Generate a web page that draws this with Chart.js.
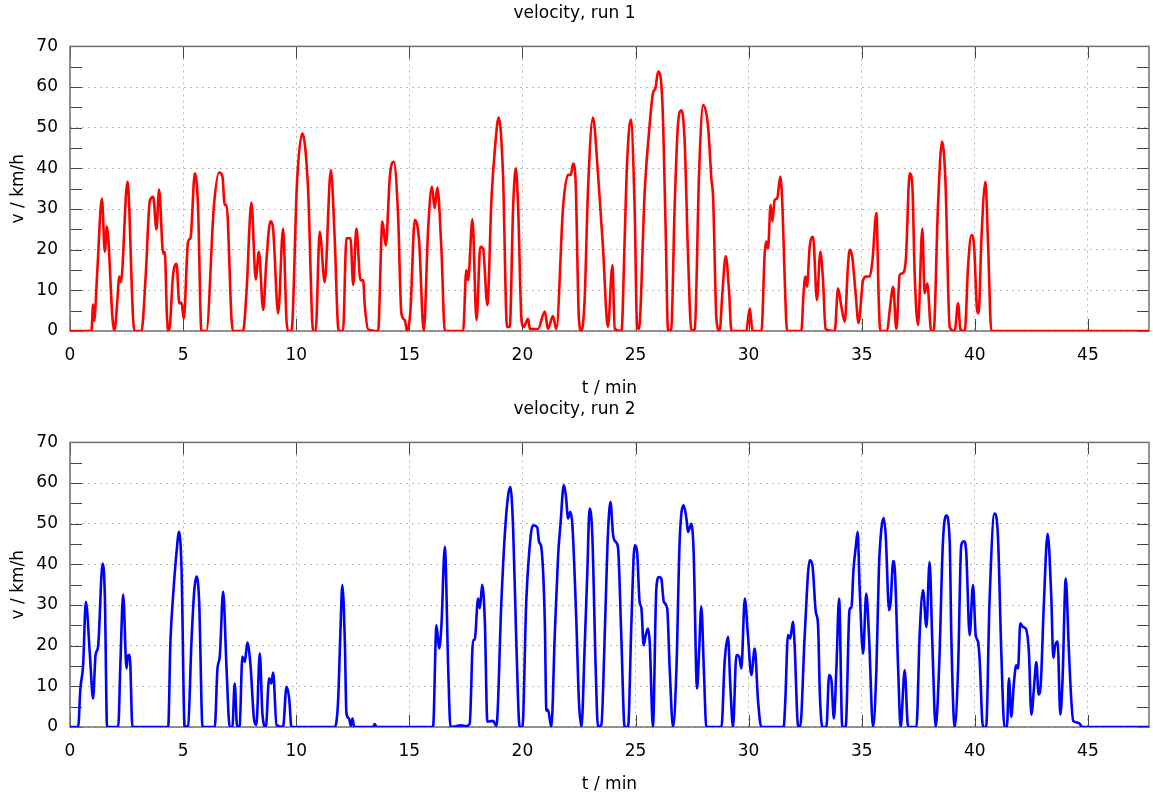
<!DOCTYPE html>
<html>
<head>
<meta charset="utf-8">
<title>velocity runs</title>
<script src="https://cdn.jsdelivr.net/npm/chart.js@4.4.1/dist/chart.umd.min.js"></script>
<style>
  html, body { margin: 0; padding: 0; background: #fff; overflow: hidden; }
  .panel { position: absolute; left: 0; width: 1153px; height: 396px; }
  #run1Panel { top: 0; }
  #run2Panel { top: 396px; }
</style>
</head>
<body>
<div class="panel" id="run1Panel"><canvas id="run1Chart" width="1153" height="396"></canvas></div>
<div class="panel" id="run2Panel"><canvas id="run2Chart" width="1153" height="396"></canvas></div>
<script>
// time axis ticks (minutes) and velocity ticks (km/h)
const xTicks = [0, 5, 10, 15, 20, 25, 30, 35, 40, 45];
const yTicks = [0, 5, 10, 15, 20, 25, 30, 35, 40, 45, 50, 55, 60, 65, 70];
const tMax = 47.7;

// run 1: time in minutes, velocity in km/h
const run1Time = [
  0, 0.95, 1.02, 1.07, 1.2, 1.41, 1.54, 1.63, 1.88, 1.96, 2.1, 2.17, 2.25, 2.54, 2.79, 2.85,
  3.16, 3.35, 3.53, 3.68, 3.82, 3.94, 4.12, 4.19, 4.29, 4.38, 4.56, 4.71, 4.83, 4.93, 5.03,
  5.22, 5.33, 5.52, 5.66, 5.81, 6.03, 6.36, 6.59, 6.74, 6.84, 6.92, 7.14, 7.2, 7.65, 7.8,
  8.02, 8.21, 8.35, 8.54, 8.68, 8.86, 8.98, 9.2, 9.42, 9.57, 9.64, 9.79, 10.04, 10.27, 10.52,
  10.75, 10.86, 11.04, 11.26, 11.53, 11.7, 11.85, 11.9, 12.07, 12.22, 12.4, 12.52, 12.66,
  12.84, 12.96, 13.03, 13.18, 13.62, 13.81, 13.96, 14.14, 14.31, 14.5, 14.65, 14.8, 14.9,
  15.05, 15.24, 15.43, 15.64, 15.83, 16.0, 16.12, 16.24, 16.42, 16.57, 17.38, 17.52, 17.6,
  17.79, 17.97, 18.14, 18.26, 18.45, 18.63, 18.78, 18.95, 19.14, 19.32, 19.44, 19.59, 19.71,
  19.81, 19.96, 20.06, 20.25, 20.33, 20.69, 20.99, 21.13, 21.35, 21.5, 21.8, 22.02, 22.14,
  22.24, 22.35, 22.5, 22.61, 22.75, 22.9, 23.12, 23.34, 23.56, 23.78, 23.98, 24.08, 24.38,
  24.52, 24.62, 24.79, 24.96, 25.07, 25.15, 25.41, 25.63, 25.77, 25.88, 26.0, 26.19, 26.33,
  26.44, 26.58, 26.73, 26.88, 27.03, 27.17, 27.32, 27.47, 27.62, 27.81, 27.99, 28.21, 28.36,
  28.43, 28.58, 28.72, 28.84, 28.99, 29.14, 29.24, 29.9, 30.05, 30.17, 30.57, 30.71, 30.78,
  30.86, 30.97, 31.05, 31.15, 31.26, 31.4, 31.5, 31.6, 31.7, 32.33, 32.43, 32.51, 32.58,
  32.7, 32.85, 33.02, 33.17, 33.29, 33.4, 33.81, 33.95, 34.1, 34.25, 34.39, 34.47, 34.58,
  34.73, 34.86, 35.06, 35.2, 35.35, 35.47, 35.65, 35.75, 35.82, 36.12, 36.24, 36.39, 36.53,
  36.68, 36.8, 36.95, 37.12, 37.24, 37.34, 37.49, 37.68, 37.78, 37.9, 38.07, 38.18, 38.37,
  38.55, 38.7, 38.89, 39.11, 39.26, 39.36, 39.56, 39.7, 39.85, 39.97, 40.1, 40.17, 40.29,
  40.47, 40.58, 40.73, 47.7
];
const run1Speed = [
  0, 0, 6.5, 2.5, 14, 32.6, 19.5, 25.7, 3, 0, 8, 13.4, 12, 36.7, 3, 0,
  0, 14, 32, 33, 25, 34.8, 19, 19.5, 3, 0, 14, 16.5, 6.8, 7, 3,
  22, 23, 38.8, 30.6, 0, 0, 30.6, 39, 38, 31, 31, 3, 0, 0, 9.3,
  31.6, 12.7, 19.5, 5.2, 17, 27, 25, 4.3, 25.2, 2.7, 0, 0, 37, 48.6, 35.5,
  0, 0, 24.4, 12, 39.6, 23, 1, 0, 0, 22.8, 22.8, 11.3, 25.2,
  12.5, 12.5, 6.4, 0.4, 0, 26.9, 21, 38, 41.6, 29, 4.3, 2.7, 0,
  5, 27.3, 22.4, 0, 24.8, 35.5, 30.2, 35.3, 20, 0, 0, 15, 12.5,
  27.5, 2.7, 20.7, 20.3, 6.4, 32.2, 44.5, 52.5, 38.8, 1, 1, 30.6, 40,
  30.6, 2.7, 1, 3, 0.5, 0.5, 4.8, 0.5, 3.7, 0.5, 30.6, 38.4, 38.4,
  41.2, 37, 2.7, 0, 7.6, 34.7, 52.5, 38.8, 20.7, 1, 16.2, 0.5, 0,
  22.4, 40.4, 52, 30.6, 1, 0.5, 34.7, 51, 58.4, 59.7, 63.8, 56, 25.7,
  0, 0.5, 30.6, 51, 54.3, 47, 19, 0, 0.5, 38.8, 55.6, 50.2, 37,
  33, 2.7, 0, 9.3, 18.4, 9.3, 0, 0, 5.6, 0, 0, 19, 22,
  20.3, 31, 27, 32.2, 32.6, 38, 30, 12, 0, 0, 9.3, 13.4, 10.9,
  20.7, 23.2, 7.6, 19.5, 12.5, 0.5, 0, 10.5, 6, 2.3, 15.8, 20, 18.3,
  9.3, 2, 12.5, 13.4, 13.4, 17, 29, 8, 0, 0, 5.2, 10.9, 0.5,
  13.8, 14.2, 17.5, 38.8, 35.5, 14.2, 1.5, 25.2, 9.3, 11.7, 0, 0, 30.6,
  46.6, 37, 1, 0, 6.8, 0.5, 0, 15.8, 23.6, 20.7, 5.2, 4.3, 22.4,
  36.7, 22.4, 0, 0
];

// run 2: time in minutes, velocity in km/h
const run2Time = [
  0, 0.36, 0.46, 0.58, 0.7, 0.88, 1.02, 1.13, 1.24, 1.44, 1.54, 1.64, 2.13, 2.23, 2.35, 2.5,
  2.57, 2.64, 2.76, 4.34, 4.44, 4.56, 4.71, 4.82, 4.93, 5.07, 5.22, 5.37, 5.49, 5.59, 5.71,
  5.86, 6.4, 6.52, 6.62, 6.77, 6.92, 7.06, 7.18, 7.28, 7.39, 7.5, 7.62, 7.73, 7.84, 7.98,
  8.14, 8.24, 8.39, 8.51, 8.66, 8.8, 8.9, 8.98, 9.13, 9.42, 9.57, 9.69, 9.79, 11.7, 11.85,
  11.95, 12.04, 12.15, 12.22, 12.34, 12.41, 12.49, 12.56, 13.4, 13.47, 13.55, 16.05, 16.2,
  16.32, 16.42, 16.57, 16.72, 16.82, 17.3, 17.5, 17.67, 17.82, 17.89, 18.04, 18.12, 18.22,
  18.34, 18.45, 18.7, 18.85, 19.07, 19.22, 19.37, 19.47, 19.59, 19.73, 19.88, 20.0, 20.17,
  20.37, 20.47, 20.65, 20.74, 20.84, 20.99, 21.06, 21.13, 21.28, 21.43, 21.58, 21.69, 21.83,
  21.92, 22.02, 22.12, 22.21, 22.38, 22.5, 22.61, 22.75, 22.87, 22.97, 23.09, 23.24, 23.34,
  23.49, 23.64, 23.76, 23.89, 24.01, 24.13, 24.23, 24.37, 24.52, 24.67, 24.82, 24.96, 25.07,
  25.18, 25.26, 25.36, 25.45, 25.55, 25.63, 25.77, 25.92, 26.04, 26.14, 26.25, 26.4, 26.51,
  26.66, 26.81, 26.95, 27.13, 27.25, 27.32, 27.47, 27.57, 27.72, 27.81, 27.91, 28.02, 28.13,
  28.8, 28.94, 29.09, 29.19, 29.31, 29.46, 29.58, 29.68, 29.83, 29.97, 30.12, 30.27, 30.42,
  30.56, 31.55, 31.62, 31.74, 31.84, 31.96, 32.04, 32.18, 32.28, 32.48, 32.7, 32.82, 32.97,
  33.07, 33.15, 33.26, 33.44, 33.56, 33.66, 33.77, 33.88, 34.0, 34.14, 34.29, 34.47, 34.54,
  34.64, 34.73, 34.82, 34.91, 35.06, 35.2, 35.32, 35.5, 35.65, 35.76, 35.87, 35.97, 36.06,
  36.21, 36.28, 36.39, 36.46, 36.61, 36.72, 36.9, 37.05, 37.42, 37.56, 37.71, 37.86, 38.0,
  38.12, 38.27, 38.42, 38.59, 38.74, 38.89, 38.96, 39.11, 39.26, 39.4, 39.52, 39.62, 39.77,
  39.92, 40.04, 40.14, 40.21, 40.36, 40.5, 40.65, 40.87, 41.02, 41.17, 41.31, 41.42, 41.51,
  41.61, 41.72, 41.83, 41.91, 42.01, 42.13, 42.25, 42.39, 42.5, 42.62, 42.72, 42.82, 42.92,
  43.05, 43.22, 43.38, 43.47, 43.55, 43.66, 43.78, 43.88, 44.02, 44.15, 44.25, 44.35, 44.6,
  44.75, 47.7
];
const run2Speed = [
  0, 0, 9.5, 15.2, 30.8, 17.7, 7, 17.7, 19.7, 40.2, 32.4, 0, 0, 16, 32.6, 14.4,
  17.7, 17.7, 0, 0, 21, 32.4, 43, 48, 39, 0, 0.3, 21, 33.3, 37, 30.8,
  0, 0, 14.4, 17.3, 33.3, 14.4, 0, 0, 10.7, 0, 0.3, 17.3, 16, 20.8, 15.2,
  1.7, 0.5, 18.1, 3, 0, 12, 10.7, 13.4, 0.5, 0, 9.9, 7, 0, 0, 6.2,
  22.6, 34.9, 21, 3.4, 2.1, 0.3, 2.1, 0, 0, 0.7, 0, 0, 25,
  19.3, 25, 44.3, 14.4, 0, 0.4, 0.2, 0.8, 21.4, 21.4, 31.6, 29.2, 35,
  25.9, 1.3, 1.5, 0.3, 30.8, 47.2, 57, 59, 48.8, 21, 0, 0, 30.8,
  47.2, 49.6, 49.2, 45.5, 44, 26, 4, 4.2, 0, 22.6, 42.3, 50.4, 59.5,
  57, 51.3, 52.9, 49.6, 26.7, 6.2, 0, 19.3, 38.2, 53.7, 47.2, 14.4, 0,
  0.5, 22.6, 44.7, 55.4, 47.2, 45.5, 43.9, 22.6, 0, 0, 25.9, 44.7, 43,
  30.8, 29.2, 20.1, 22.6, 24.2, 20.6, 0, 34, 36.9, 36.5, 30.8, 29.2, 14.4,
  0, 14.4, 45.5, 54.5, 51.3, 48, 50, 43, 9.5, 18.5, 29.6, 14.4, 0,
  0, 16, 22.2, 10.3, 0, 17.7, 17.3, 14.4, 31.6, 22.6, 12.8, 19.3, 6.2,
  0, 0, 6.2, 22.6, 21.8, 25.9, 19.3, 0.5, 0, 22.6, 41, 39.8, 28.3,
  25, 8, 0, 0, 12.8, 11.5, 2.1, 14.4, 31.6, 0, 0, 29.2, 29.2,
  39, 43.9, 48, 34, 18.1, 32.8, 22.6, 0, 14.4, 39, 48.8, 51.4, 47.2,
  28.7, 30.8, 40.8, 39, 14.4, 0, 14, 0, 0, 22.6, 33.7, 24.6, 40.6,
  21, 0, 14.4, 45.5, 52, 45.5, 22.6, 0, 14.4, 44.7, 45.7, 43, 22.6,
  34.9, 22.6, 21, 16.9, 0, 0, 30.8, 52.5, 47.2, 18.5, 0, 0, 12,
  2.5, 10.3, 15.2, 14.4, 25.5, 24.6, 24.2, 18.5, 3, 10, 16, 8, 11,
  30, 47.5, 32, 17, 20, 21, 3, 12, 36.5, 20, 8, 1.5, 1,
  0, 0
];

const fontFamily = "'DejaVu Sans', Verdana, sans-serif";

// draws the box round the plot and the inward tick marks (gnuplot look)
const frameTicks = {
  id: "frameTicks",
  beforeDatasetsDraw(chart) {
    const { ctx, chartArea: a, scales } = chart;
    const len = 12;
    ctx.save();
    ctx.strokeStyle = "#444";
    ctx.lineWidth = 1;
    ctx.beginPath();
    xTicks.forEach((v) => {
      const px = Math.round(scales.x.getPixelForValue(v)) + 0.5;
      ctx.moveTo(px, a.bottom);
      ctx.lineTo(px, a.bottom - len);
      ctx.moveTo(px, a.top);
      ctx.lineTo(px, a.top + len);
    });
    yTicks.forEach((v) => {
      const py = Math.round(scales.y.getPixelForValue(v)) + 0.5;
      ctx.moveTo(a.left, py);
      ctx.lineTo(a.left + len, py);
      ctx.moveTo(a.right, py);
      ctx.lineTo(a.right - len, py);
    });
    ctx.stroke();
    ctx.strokeStyle = "#707070";
    ctx.lineWidth = 1.5;
    ctx.strokeRect(a.left, a.top, a.right - a.left, a.bottom - a.top);
    ctx.restore();
  },
};

function makePoints(times, speeds) {
  return times.map((t, i) => ({ x: t, y: speeds[i] }));
}

// both panels share the same layout
function velocityOptions(titleText) {
  return {
    responsive: false,
    animation: false,
    layout: { padding: { left: 0, right: 4, top: 0, bottom: 0 } },
    plugins: {
      legend: { display: false },
      tooltip: { enabled: false },
      title: {
        display: true,
        text: titleText,
        color: "#000",
        font: { family: fontFamily, size: 17, weight: "normal", lineHeight: 1.2 },
        padding: { top: 3, bottom: 23 },
      },
    },
    scales: {
      x: {
        type: "linear",
        min: 0,
        max: tMax,
        afterBuildTicks: (scale) => {
          scale.ticks = xTicks.map((v) => ({ value: v }));
        },
        afterFit: (scale) => {
          scale.height = 65;
        },
        grid: { color: "#b8b8b8", lineWidth: 1, drawTicks: false },
        border: { display: false, dash: [2, 4] },
        ticks: {
          color: "#000",
          padding: 14,
          maxRotation: 0,
          font: { family: fontFamily, size: 17 },
        },
        title: {
          display: true,
          text: "t / min",
          color: "#000",
          font: { family: fontFamily, size: 17, lineHeight: 0.85 },
          padding: { top: 0, bottom: 0 },
        },
      },
      y: {
        min: 0,
        max: 70,
        afterBuildTicks: (scale) => {
          scale.ticks = yTicks.map((v) => ({ value: v }));
        },
        afterFit: (scale) => {
          scale.width = 70;
        },
        grid: { color: "#b8b8b8", lineWidth: 1, drawTicks: false },
        border: { display: false, dash: [2, 4] },
        ticks: {
          color: "#000",
          padding: 12,
          font: { family: fontFamily, size: 17 },
        },
        title: {
          display: true,
          text: "v / km/h",
          color: "#000",
          font: { family: fontFamily, size: 17, lineHeight: 1.2 },
          padding: { top: 8, bottom: 0 },
        },
      },
    },
  };
}

// to draw one velocity panel
function velocityDraw(canvasId, titleText, times, speeds, color) {
  return new Chart(document.querySelector(canvasId), {
    type: "line",
    data: {
      datasets: [
        {
          data: makePoints(times, speeds),
          borderColor: color,
          borderWidth: 2.6,
          pointRadius: 0,
          fill: false,
          cubicInterpolationMode: "monotone",
        },
      ],
    },
    options: velocityOptions(titleText),
    plugins: [frameTicks],
  });
}

velocityDraw("#run1Chart", "velocity, run 1", run1Time, run1Speed, "#ff0000");
velocityDraw("#run2Chart", "velocity, run 2", run2Time, run2Speed, "#0000ff");
</script>
</body>
</html>
